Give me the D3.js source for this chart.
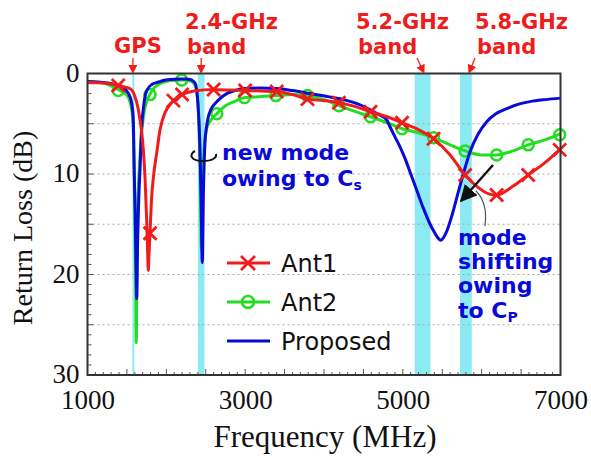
<!DOCTYPE html>
<html>
<head>
<meta charset="utf-8">
<script src="https://cdn.jsdelivr.net/npm/d3@7"></script>
<style>
  body { margin: 0; background: #fff; }
  svg { display: block; }
</style>
</head>
<body>
<div id="chart"></div>
<script>
// Ant1 (red, X markers)
const ant1Freq = [1000, 1200, 1390, 1539, 1602, 1640, 1666, 1690, 1708, 1729, 1750, 1762, 1771, 1780, 1793, 1810, 1835, 1878, 1920, 1983, 2068, 2090, 2200, 2350, 2600, 2800, 3000, 3200, 3400, 3600, 3790, 4000, 4190, 4400, 4590, 4800, 4990, 5200, 5390, 5600, 5790, 5950, 6100, 6190, 6400, 6590, 6800, 7000];
const ant1Loss = [0.9, 0.95, 1.2, 1.5, 2.3, 3.4, 4.6, 6.0, 7.6, 10.2, 14.5, 17.5, 19.6, 18.0, 15.9, 12.8, 10.4, 7.9, 5.6, 3.9, 2.9, 2.7, 2.1, 1.75, 1.6, 1.65, 1.7, 1.75, 1.8, 2.1, 2.55, 2.7, 2.9, 3.3, 3.8, 4.3, 4.9, 5.6, 6.5, 8.1, 10.1, 11.3, 12.0, 12.1, 11.2, 10.1, 8.9, 7.5];
const ant1MarkFreq = [1390, 1793, 2090, 2200, 2600, 3000, 3400, 3790, 4190, 4590, 4990, 5390, 5790, 6190, 6590, 6990];
const ant1MarkLoss = [1.2, 15.9, 2.7, 2.1, 1.6, 1.7, 1.8, 2.55, 2.9, 3.8, 4.9, 6.5, 10.1, 12.1, 10.1, 7.6];

// Ant2 (green, circle markers)
const ant2Freq = [1000, 1200, 1390, 1480, 1530, 1565, 1578, 1590, 1600, 1610, 1618, 1628, 1640, 1660, 1690, 1720, 1750, 1790, 1850, 1950, 2050, 2195, 2290, 2340, 2370, 2395, 2415, 2430, 2445, 2460, 2480, 2510, 2560, 2640, 2750, 2860, 2990, 3200, 3390, 3600, 3790, 4000, 4190, 4400, 4590, 4800, 4990, 5200, 5390, 5600, 5790, 6000, 6190, 6400, 6590, 6800, 7000];
const ant2Loss = [0.8, 0.95, 1.6, 2.0, 2.6, 3.8, 5.2, 8.5, 13, 20, 26.8, 19, 13, 9, 5.6, 3.8, 2.8, 2.1, 1.4, 0.9, 0.7, 0.65, 0.7, 0.9, 1.3, 2.5, 5.5, 10, 17.5, 11, 7.5, 5.5, 4.7, 4.0, 3.2, 2.8, 2.4, 2.3, 2.2, 2.1, 2.2, 2.6, 3.2, 3.8, 4.3, 4.9, 5.5, 5.9, 6.4, 7.1, 7.7, 8.1, 8.1, 7.7, 7.1, 6.6, 6.0];
const ant2MarkFreq = [1390, 1793, 2195, 2640, 2990, 3390, 3790, 4190, 4590, 4990, 5390, 5790, 6190, 6590, 6990];
const ant2MarkLoss = [1.7, 2.1, 0.65, 4.0, 2.4, 2.2, 2.2, 3.2, 4.3, 5.5, 6.4, 7.7, 8.1, 7.1, 6.1];

// Proposed (blue)
const propFreq = [1000, 1200, 1390, 1480, 1539, 1570, 1581, 1592, 1605, 1615, 1624, 1635, 1650, 1666, 1687, 1710, 1729, 1760, 1814, 1900, 1962, 2050, 2173, 2250, 2300, 2340, 2364, 2385, 2406, 2425, 2440, 2456, 2470, 2490, 2510, 2533, 2570, 2617, 2680, 2766, 2870, 2977, 3200, 3400, 3600, 3822, 4050, 4245, 4450, 4583, 4700, 4795, 4837, 4900, 4964, 5030, 5091, 5180, 5260, 5340, 5408, 5450, 5480, 5510, 5557, 5620, 5683, 5760, 5852, 5950, 6064, 6180, 6318, 6450, 6613, 6800, 7000];
const propLoss = [0.8, 0.9, 1.2, 1.6, 2.3, 3.5, 4.6, 9.5, 14, 19, 22.4, 17, 12.5, 9.6, 5.3, 3.4, 2.3, 1.6, 1.1, 0.85, 0.7, 0.6, 0.55, 0.55, 0.6, 0.75, 0.95, 1.6, 3.6, 7, 12, 18.8, 12, 6.9, 5.3, 4.3, 3.5, 3.0, 2.5, 2.0, 1.7, 1.5, 1.45, 1.5, 1.7, 2.0, 2.3, 2.6, 3.1, 3.6, 4.1, 4.6, 5.3, 6.3, 7.3, 8.5, 9.8, 11.7, 13.4, 14.9, 15.9, 16.4, 16.6, 16.4, 15.7, 14.2, 12.4, 10.2, 7.8, 6.1, 4.8, 4.0, 3.5, 3.1, 2.8, 2.6, 2.45];

// frequency bands (MHz)
const bandNames = ["GPS", "2.4-GHz", "5.2-GHz", "5.8-GHz"];
const bandStart = [1570, 2400, 5150, 5725];
const bandEnd = [1582, 2484, 5350, 5875];

const xTickLabels = [1000, 3000, 5000, 7000];
const yTickLabels = [0, 10, 20, 30];
const yGrid = [5, 10, 15, 20, 25];

const width = 591, height = 456;
const margin = ({top: 73.5, right: 30.5, bottom: 81, left: 87.5});

const svg = d3.select("#chart").append("svg")
    .attr("width", width)
    .attr("height", height);

const x = d3.scaleLinear().domain([1000, 7000]).range([margin.left, width - margin.right]);
const y = d3.scaleLinear().domain([0, 30]).range([margin.top, height - margin.bottom]);

const red = "#f01c1c", green = "#22dd22", blue = "#0a0ad8", cyan = "#8ceaf2";

// bands
svg.append("g").selectAll("rect")
    .data(bandStart)
    .join("rect")
    .attr("x", (d, i) => x(d))
    .attr("width", (d, i) => Math.max(2, x(bandEnd[i]) - x(d)))
    .attr("y", y(0))
    .attr("height", y(30) - y(0))
    .attr("fill", cyan);

// grid
svg.append("g").selectAll("line")
    .data(yGrid)
    .join("line")
    .attr("x1", x(1000)).attr("x2", x(7000))
    .attr("y1", d => y(d)).attr("y2", d => y(d))
    .attr("stroke", "#aaa")
    .attr("stroke-width", 1.2)
    .attr("stroke-dasharray", "2,3");

// minor ticks
const yMinor = d3.range(1, 30);
svg.append("g").selectAll("line")
    .data(yMinor)
    .join("line")
    .attr("x1", x(1000)).attr("x2", d => x(1000) + (d % 5 === 0 ? 6 : 4))
    .attr("y1", d => y(d)).attr("y2", d => y(d))
    .attr("stroke", "#555").attr("stroke-width", 1);
const xMinor = d3.range(1100, 7000, 100);
svg.append("g").selectAll("line")
    .data(xMinor)
    .join("line")
    .attr("x1", d => x(d)).attr("x2", d => x(d))
    .attr("y1", y(30)).attr("y2", d => y(30) - (d % 500 === 0 ? 6 : 3))
    .attr("stroke", "#555").attr("stroke-width", 1);

// tick labels
svg.append("g")
    .attr("transform", `translate(0, ${y(30)})`)
    .call(d3.axisBottom(x).tickValues(xTickLabels).tickSize(0).tickPadding(15).tickFormat(d3.format("d")))
    .call(g => g.select(".domain").remove())
    .selectAll("text")
    .attr("font-family", "Liberation Serif, Times New Roman, serif")
    .attr("font-size", 27)
    .attr("fill", "#111");

svg.append("g")
    .attr("transform", `translate(${x(1000)}, 0)`)
    .call(d3.axisLeft(y).tickValues(yTickLabels).tickSize(0).tickPadding(8))
    .call(g => g.select(".domain").remove())
    .selectAll("text")
    .attr("font-family", "Liberation Serif, Times New Roman, serif")
    .attr("font-size", 27)
    .attr("dy", "0.28em")
    .attr("fill", "#111");

// axis titles
svg.append("text")
    .attr("x", 325).attr("y", 447)
    .attr("text-anchor", "middle")
    .attr("font-family", "Liberation Serif, Times New Roman, serif")
    .attr("font-size", 31)
    .attr("fill", "#111")
    .text("Frequency (MHz)");

svg.append("text")
    .attr("transform", "translate(32, 228) rotate(-90)")
    .attr("text-anchor", "middle")
    .attr("font-family", "Liberation Serif, Times New Roman, serif")
    .attr("font-size", 28)
    .attr("fill", "#111")
    .text("Return Loss (dB)");

// curves
const line = d3.line()
    .x(d => x(d[0]))
    .y(d => y(d[1]))
    .curve(d3.curveMonotoneX);

const plot = svg.append("g");
const series = [
    {f: ant2Freq, v: ant2Loss, color: green},
    {f: propFreq, v: propLoss, color: blue},
    {f: ant1Freq, v: ant1Loss, color: red}
];

function drawSeries(s) {
    plot.append("path")
        .datum(s.f.map((f, i) => [f, s.v[i]]))
        .attr("fill", "none")
        .attr("stroke", s.color)
        .attr("stroke-width", 3)
        .attr("stroke-linejoin", "round")
        .attr("d", line);
}

function drawCircles(fs, vs) {
    plot.append("g").selectAll("circle")
        .data(fs.map((f, i) => [f, vs[i]]))
        .join("circle")
        .attr("cx", d => x(d[0]))
        .attr("cy", d => y(d[1]))
        .attr("r", 5.5)
        .attr("fill", "none")
        .attr("stroke", green)
        .attr("stroke-width", 2.5);
}

function drawCrosses(fs, vs) {
    const s = 6.5;
    plot.append("g").selectAll("path")
        .data(fs.map((f, i) => [f, vs[i]]))
        .join("path")
        .attr("d", d => {
            const cx = x(d[0]), cy = y(d[1]);
            return `M${cx - s},${cy - s}L${cx + s},${cy + s}M${cx - s},${cy + s}L${cx + s},${cy - s}`;
        })
        .attr("stroke", red)
        .attr("stroke-width", 2.8)
        .attr("fill", "none");
}

drawSeries(series[0]);
drawCircles(ant2MarkFreq, ant2MarkLoss);
drawSeries(series[1]);
drawSeries(series[2]);
drawCrosses(ant1MarkFreq, ant1MarkLoss);

// frame
svg.append("rect")
    .attr("x", x(1000)).attr("y", y(0))
    .attr("width", x(7000) - x(1000))
    .attr("height", y(30) - y(0))
    .attr("fill", "none")
    .attr("stroke", "#333")
    .attr("stroke-width", 2);

// legend
const legendNames = ["Ant1", "Ant2", "Proposed"];
const legendY = [263, 302, 341];
const lg = svg.append("g");
legendNames.forEach((name, i) => {
    const col = [red, green, blue][i];
    lg.append("line")
        .attr("x1", 227).attr("x2", 270)
        .attr("y1", legendY[i]).attr("y2", legendY[i])
        .attr("stroke", col).attr("stroke-width", 3);
    if (i === 0) {
        lg.append("path")
            .attr("d", `M241,${legendY[i] - 7}L255,${legendY[i] + 7}M241,${legendY[i] + 7}L255,${legendY[i] - 7}`)
            .attr("stroke", red).attr("stroke-width", 2.8);
    } else if (i === 1) {
        lg.append("circle")
            .attr("cx", 248).attr("cy", legendY[i]).attr("r", 6)
            .attr("fill", "none").attr("stroke", green).attr("stroke-width", 2.5);
    }
    lg.append("text")
        .attr("x", 281).attr("y", legendY[i])
        .attr("dy", "0.36em")
        .attr("font-family", "DejaVu Sans, Verdana, sans-serif")
        .attr("font-size", 24)
        .attr("fill", "#111")
        .text(name);
});

// red band labels
const labelFont = "DejaVu Sans, Verdana, sans-serif";
function redText(tx, ty, str, anchor) {
    svg.append("text")
        .attr("x", tx).attr("y", ty)
        .attr("text-anchor", anchor || "start")
        .attr("font-family", labelFont)
        .attr("font-weight", "bold")
        .attr("font-size", 21)
        .attr("fill", red)
        .text(str);
}
redText(138, 53, bandNames[0], "middle");
redText(185, 29, bandNames[1]);
redText(187, 54, "band");
redText(356, 29, bandNames[2]);
redText(358, 54, "band");
redText(475, 29, bandNames[3]);
redText(477, 54, "band");

// arrow markers
const defs = svg.append("defs");
function arrowDef(id, color, size) {
    defs.append("marker")
        .attr("id", id)
        .attr("viewBox", "0 0 10 10")
        .attr("refX", 9).attr("refY", 5)
        .attr("markerWidth", size).attr("markerHeight", size)
        .attr("markerUnits", "userSpaceOnUse")
        .attr("orient", "auto")
        .append("path")
        .attr("d", "M0,0L10,5L0,10Z")
        .attr("fill", color);
}
arrowDef("ahRed", red, 9);
arrowDef("ahBlack", "#111", 17);

const redArrows = [
    [x(1576), 58, x(1576), 73],
    [x(2442), 58, x(2442), 73],
    [417, 58, 424, 73],
    [475, 58, 469, 73]
];
svg.append("g").selectAll("line")
    .data(redArrows)
    .join("line")
    .attr("x1", d => d[0]).attr("y1", d => d[1])
    .attr("x2", d => d[2]).attr("y2", d => d[3])
    .attr("stroke", red).attr("stroke-width", 1.3)
    .attr("marker-end", "url(#ahRed)");

// blue annotations
function blueText(tx, ty, str) {
    return svg.append("text")
        .attr("x", tx).attr("y", ty)
        .attr("font-family", labelFont)
        .attr("font-weight", "bold")
        .attr("font-size", 22)
        .attr("fill", blue)
        .text(str);
}
blueText(222, 160, "new mode");
blueText(222, 186, "owing to C")
    .append("tspan").attr("font-size", 14).attr("dy", 4).text("s");

blueText(458, 245, "mode");
blueText(458, 269, "shifting");
blueText(458, 293, "owing");
blueText(458, 318, "to C")
    .append("tspan").attr("font-size", 14).attr("dy", 4).text("P");

// bracket near 2.4 GHz mode
svg.append("path")
    .attr("d", "M195,151 C189,154 190,161 203,161 C212,161 217,158 216,154")
    .attr("fill", "none")
    .attr("stroke", "#111")
    .attr("stroke-width", 2);

// black arrow and leader line
svg.append("line")
    .attr("x1", 493).attr("y1", 165)
    .attr("x2", 461).attr("y2", 201)
    .attr("stroke", "#111").attr("stroke-width", 2.4)
    .attr("marker-end", "url(#ahBlack)");
svg.append("path")
    .attr("d", "M476,191 Q488,203 485,226")
    .attr("fill", "none")
    .attr("stroke", "#555")
    .attr("stroke-width", 1.2);
</script>
</body>
</html>
